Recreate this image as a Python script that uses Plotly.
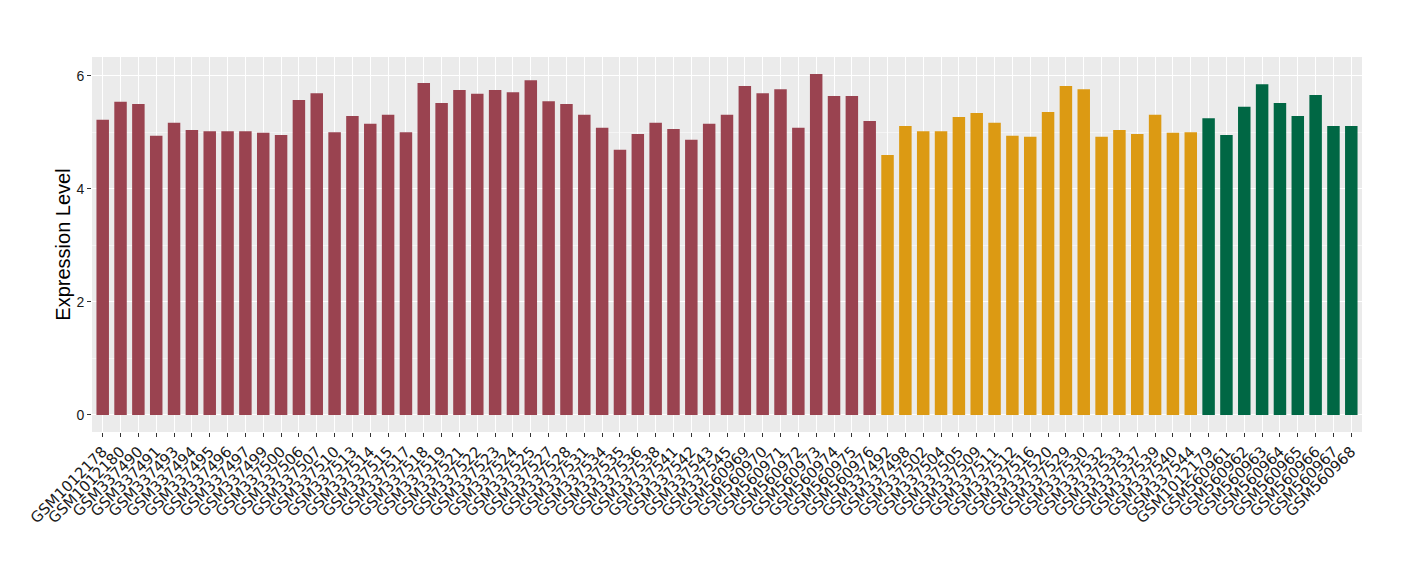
import plotly.graph_objects as go

red_samples = ["GSM1012178", "GSM1012180", "GSM337490", "GSM337491", "GSM337493", "GSM337494",
               "GSM337495", "GSM337496", "GSM337497", "GSM337499", "GSM337500", "GSM337506",
               "GSM337507", "GSM337510", "GSM337513", "GSM337514", "GSM337515", "GSM337517",
               "GSM337518", "GSM337519", "GSM337521", "GSM337522", "GSM337523", "GSM337524",
               "GSM337525", "GSM337527", "GSM337528", "GSM337531", "GSM337534", "GSM337535",
               "GSM337536", "GSM337538", "GSM337541", "GSM337542", "GSM337543", "GSM337545",
               "GSM560969", "GSM560970", "GSM560971", "GSM560972", "GSM560973", "GSM560974",
               "GSM560975", "GSM560976"]
red_values = [5.22, 5.54, 5.50, 4.94, 5.17, 5.04, 5.02, 5.02, 5.02, 4.99, 4.95, 5.57,
              5.69, 5.00, 5.29, 5.15, 5.31, 5.00, 5.87, 5.52, 5.75, 5.68, 5.75, 5.71,
              5.92, 5.55, 5.50, 5.31, 5.08, 4.69, 4.97, 5.17, 5.06, 4.87, 5.15, 5.31,
              5.82, 5.69, 5.76, 5.08, 6.03, 5.64, 5.64, 5.20]

yellow_samples = ["GSM337492", "GSM337498", "GSM337502", "GSM337504", "GSM337505", "GSM337509",
                  "GSM337511", "GSM337512", "GSM337516", "GSM337520", "GSM337529", "GSM337530",
                  "GSM337532", "GSM337533", "GSM337537", "GSM337539", "GSM337540", "GSM337544"]
yellow_values = [4.60, 5.11, 5.02, 5.02, 5.27, 5.34, 5.17, 4.94, 4.92, 5.36, 5.82, 5.76,
                 4.92, 5.04, 4.97, 5.31, 4.99, 5.00]

green_samples = ["GSM1012179", "GSM560961", "GSM560962", "GSM560963", "GSM560964", "GSM560965",
                 "GSM560966", "GSM560967", "GSM560968"]
green_values = [5.25, 4.95, 5.45, 5.85, 5.52, 5.29, 5.66, 5.11, 5.11]

groups = [
    (red_samples, red_values, "#9A4350"),
    (yellow_samples, yellow_values, "#DC9A13"),
    (green_samples, green_values, "#006744"),
]

all_samples = red_samples + yellow_samples + green_samples
n = len(all_samples)
ymax = max(red_values + yellow_values + green_values)

fig = go.Figure()
for samples, values, color in groups:
    fig.add_trace(go.Bar(x=samples, y=values, marker=dict(color=color, line=dict(width=0)),
                         showlegend=False))

font_family = "Liberation Sans, Arial, sans-serif"
fig.update_layout(
    width=1420, height=580,
    margin=dict(l=84, r=66, t=49, b=156),
    paper_bgcolor="white",
    plot_bgcolor="#EBEBEB",
    barmode="overlay",
    bargap=0.3,
    font=dict(family=font_family, color="#1A1A1A"),
    xaxis=dict(
        type="category",
        categoryorder="array",
        categoryarray=all_samples,
        tickmode="array",
        tickvals=all_samples,
        ticktext=all_samples,
        range=[-0.6, n - 0.4],
        tickangle=-45,
        tickfont=dict(size=15, color="#1A1A1A", family="DejaVu Sans"),
        showgrid=True, gridcolor="white", gridwidth=1.1,
        ticks="outside", ticklen=4, tickcolor="#333333", tickwidth=1,
        showline=False, zeroline=False,
    ),
    yaxis=dict(
        range=[-0.05 * ymax, ymax * 1.05],
        tickvals=[0, 2, 4, 6],
        tickfont=dict(size=14, color="#1A1A1A"),
        showgrid=True, gridcolor="white", gridwidth=1.1,
        minor=dict(dtick=1, tick0=0, showgrid=True, gridcolor="#F5F5F5", gridwidth=0.6),
        ticks="outside", ticklen=4, tickcolor="#333333", tickwidth=1,
        zeroline=False, showline=False,
        title=dict(text="Expression Level", font=dict(size=20, color="#000000"), standoff=0),
    ),
)

fig.write_html("out.html")
